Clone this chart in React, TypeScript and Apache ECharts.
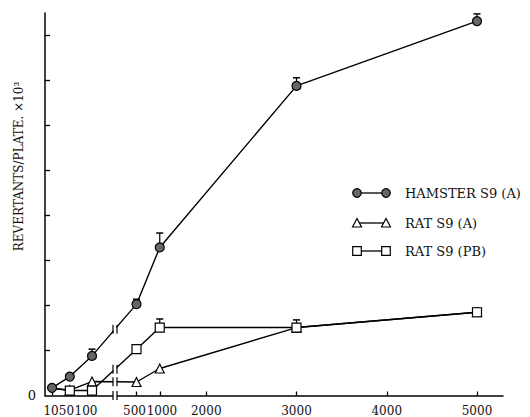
import React, { useEffect, useRef } from "react";
import * as echarts from "echarts";

// Doses (x) and responses (revertants/plate x10^3)
const doses = [10, 50, 100, 500, 1000, 3000, 5000];
const hamsterS9A = [0.17, 0.42, 0.88, 2.03, 3.29, 6.88, 8.32];
const ratS9A = [0.16, 0.12, 0.31, 0.3, 0.6, 1.51, 1.85];
const ratS9PB = [0.16, 0.11, 0.11, 1.03, 1.51, 1.51, 1.85];

// Upper ends of error bars [dose, upper]
const hamsterErr = [[100, 1.03], [500, 2.14], [1000, 3.61], [3000, 7.06], [5000, 8.48]];
const ratAErr = [[3000, 1.68]];
const ratPBErr = [[1000, 1.7], [5000, 1.94]];

const xTickLabels = [10, 50, 100, 500, 1000, 2000, 3000, 4000, 5000];
const yTicks = [1, 2, 3, 4, 5, 6, 7, 8];

const seriesNames = ["HAMSTER S9 (A)", "RAT S9 (A)", "RAT S9 (PB)"];
const yTitle = "REVERTANTS/PLATE. ×10³";

// Broken, piecewise-linear dose scale (axis units)
function tx(v: number): number {
  if (v <= 150) return 2.6 + 0.444 * v;
  if (v <= 2000) return 91.5 + (v - 500) * 0.0465;
  return 161.25 + (v - 2000) * 0.09025;
}
const BREAK_T = 70;

function breakY(vals: number[]): number {
  const i0 = doses.indexOf(100);
  const i1 = doses.indexOf(500);
  const t0 = tx(doses[i0]);
  const t1 = tx(doses[i1]);
  return vals[i0] + ((BREAK_T - t0) / (t1 - t0)) * (vals[i1] - vals[i0]);
}

const FONT = "DejaVu Serif";
// small sideways shifts (axis units) of crowded tick labels, as set in the original
const labelShift: Record<string, number> = { "10": -1, "50": -3.3, "100": -6, "500": -2, "1000": 2.2 };

export default function App() {
  const ref = useRef<HTMLDivElement>(null);
  useEffect(() => {
    if (!ref.current) return;
    const chart = echarts.init(ref.current, undefined, { renderer: "svg" });
    const tickT = xTickLabels.map(tx);
    const labelT = xTickLabels.map((v) => tx(v) + (labelShift[String(v)] || 0));
    // the shared 10-dose start point of the rat curves lies under the hamster marker
    const toData = (vals: number[], hideFirst = false) =>
      doses.map((d, i) => (hideFirst && i === 0 ? { value: [tx(d), vals[i]], symbol: "none" } : [tx(d), vals[i]]));
    const errData = (arr: number[][], vals: number[]) =>
      arr.map(([d, up]) => [tx(d), vals[doses.indexOf(d)], up]);

    const errSeries = (data: number[][]) => ({
      type: "custom",
      z: 1,
      silent: true,
      data,
      renderItem: (_p: any, api: any) => {
        const a = api.coord([api.value(0), api.value(1)]);
        const b = api.coord([api.value(0), api.value(2)]);
        return {
          type: "group",
          children: [
            { type: "line", shape: { x1: a[0], y1: a[1], x2: b[0], y2: b[1] }, style: { stroke: "#000", lineWidth: 1.2 } },
            { type: "line", shape: { x1: b[0] - 3.5, y1: b[1], x2: b[0] + 3.5, y2: b[1] }, style: { stroke: "#000", lineWidth: 1.5 } },
          ],
        };
      },
    });

    const breakData = [
      [BREAK_T, breakY(hamsterS9A)],
      [BREAK_T, breakY(ratS9A)],
      [BREAK_T, breakY(ratS9PB)],
      [BREAK_T, 0],
    ];

    const lineStyle = { color: "#000", width: 1.4 };
    const legendRows = [193, 223, 251];
    const markerShape = (k: number, x: number, y: number) => {
      const st = { stroke: "#000", lineWidth: 1.2, fill: k === 0 ? "#666" : "#fff" };
      if (k === 0) return { type: "circle", shape: { cx: x, cy: y, r: 4.3 }, style: st };
      if (k === 1)
        return { type: "polygon", shape: { points: [[x, y - 4.5], [x + 4.5, y + 4], [x - 4.5, y + 4]] }, style: st };
      return { type: "rect", shape: { x: x - 4.3, y: y - 4.3, width: 8.6, height: 8.6 }, style: st };
    };
    const legendGraphics = seriesNames.map((name, k) => ({
      type: "group",
      children: [
        { type: "line", shape: { x1: 357, y1: legendRows[k], x2: 386, y2: legendRows[k] }, style: { stroke: "#000", lineWidth: 1.3 } },
        markerShape(k, 357, legendRows[k]),
        markerShape(k, 386, legendRows[k]),
        {
          type: "text",
          x: 405,
          y: legendRows[k],
          style: { text: name, font: `13px "${FONT}"`, fill: "#111", verticalAlign: "middle", align: "left" },
        },
      ],
    }));

    chart.setOption({
      animation: false,
      backgroundColor: "#fff",
      grid: { left: 45, top: 13, width: 458, height: 382.5 },
      xAxis: {
        type: "value",
        min: 0,
        max: 458,
        axisLine: { lineStyle: { color: "#000", width: 1.5 } },
        axisTick: { inside: true, length: 4, customValues: tickT, lineStyle: { color: "#000", width: 1.3 } },
        axisLabel: {
          customValues: labelT,
          hideOverlap: false,
          showMinLabel: true,
          showMaxLabel: true,
          margin: 9,
          color: "#111",
          fontFamily: FONT,
          fontSize: 12,
          formatter: (v: number) => {
            const i = labelT.findIndex((t) => Math.abs(t - v) < 0.01);
            return i >= 0 ? String(xTickLabels[i]) : "";
          },
        },
        splitLine: { show: false },
      },
      yAxis: {
        type: "value",
        min: 0,
        max: 8.5,
        axisLine: { lineStyle: { color: "#000", width: 1.5 } },
        axisTick: { inside: true, length: 5, customValues: yTicks, lineStyle: { color: "#000", width: 1.3 } },
        axisLabel: { customValues: [0], showMinLabel: true, margin: 9, color: "#111", fontFamily: FONT, fontSize: 13, formatter: () => "0" },
        splitLine: { show: false },
      },
      graphic: [
        {
          type: "text",
          x: 19,
          y: 166.5,
          rotation: Math.PI / 2,
          style: { text: yTitle, font: `12px "${FONT}"`, fill: "#111", align: "center", verticalAlign: "middle" },
        },
        ...legendGraphics,
      ],
      series: [
        errSeries(errData(hamsterErr, hamsterS9A)),
        errSeries(errData(ratAErr, ratS9A)),
        errSeries(errData(ratPBErr, ratS9PB)),
        {
          name: seriesNames[1],
          type: "line",
          data: toData(ratS9A, true),
          symbol: "triangle",
          symbolSize: 9,
          lineStyle,
          itemStyle: { color: "#fff", borderColor: "#000", borderWidth: 1.2 },
        },
        {
          name: seriesNames[2],
          type: "line",
          data: toData(ratS9PB, true),
          symbol: "rect",
          symbolSize: 9,
          lineStyle,
          itemStyle: { color: "#fff", borderColor: "#000", borderWidth: 1.2 },
        },
        {
          name: seriesNames[0],
          type: "line",
          data: toData(hamsterS9A),
          symbol: "circle",
          symbolSize: 9,
          lineStyle,
          itemStyle: { color: "#666", borderColor: "#000", borderWidth: 1.2 },
        },
        {
          type: "custom",
          z: 5,
          silent: true,
          clip: false,
          data: breakData,
          renderItem: (_p: any, api: any) => {
            const p = api.coord([api.value(0), api.value(1)]);
            const h = 4.5;
            return {
              type: "group",
              children: [
                { type: "rect", shape: { x: p[0] - 1.8, y: p[1] - 2, width: 3.6, height: 4 }, style: { fill: "#fff" } },
                { type: "line", shape: { x1: p[0] - 2, y1: p[1] - h, x2: p[0] - 2, y2: p[1] + h }, style: { stroke: "#000", lineWidth: 1.2 } },
                { type: "line", shape: { x1: p[0] + 2, y1: p[1] - h, x2: p[0] + 2, y2: p[1] + h }, style: { stroke: "#000", lineWidth: 1.2 } },
              ],
            };
          },
        },
      ],
    });
    return () => chart.dispose();
  }, []);
  return <div ref={ref} style={{ position: "fixed", left: 0, top: 0, width: 530, height: 417, background: "#fff" }} />;
}
